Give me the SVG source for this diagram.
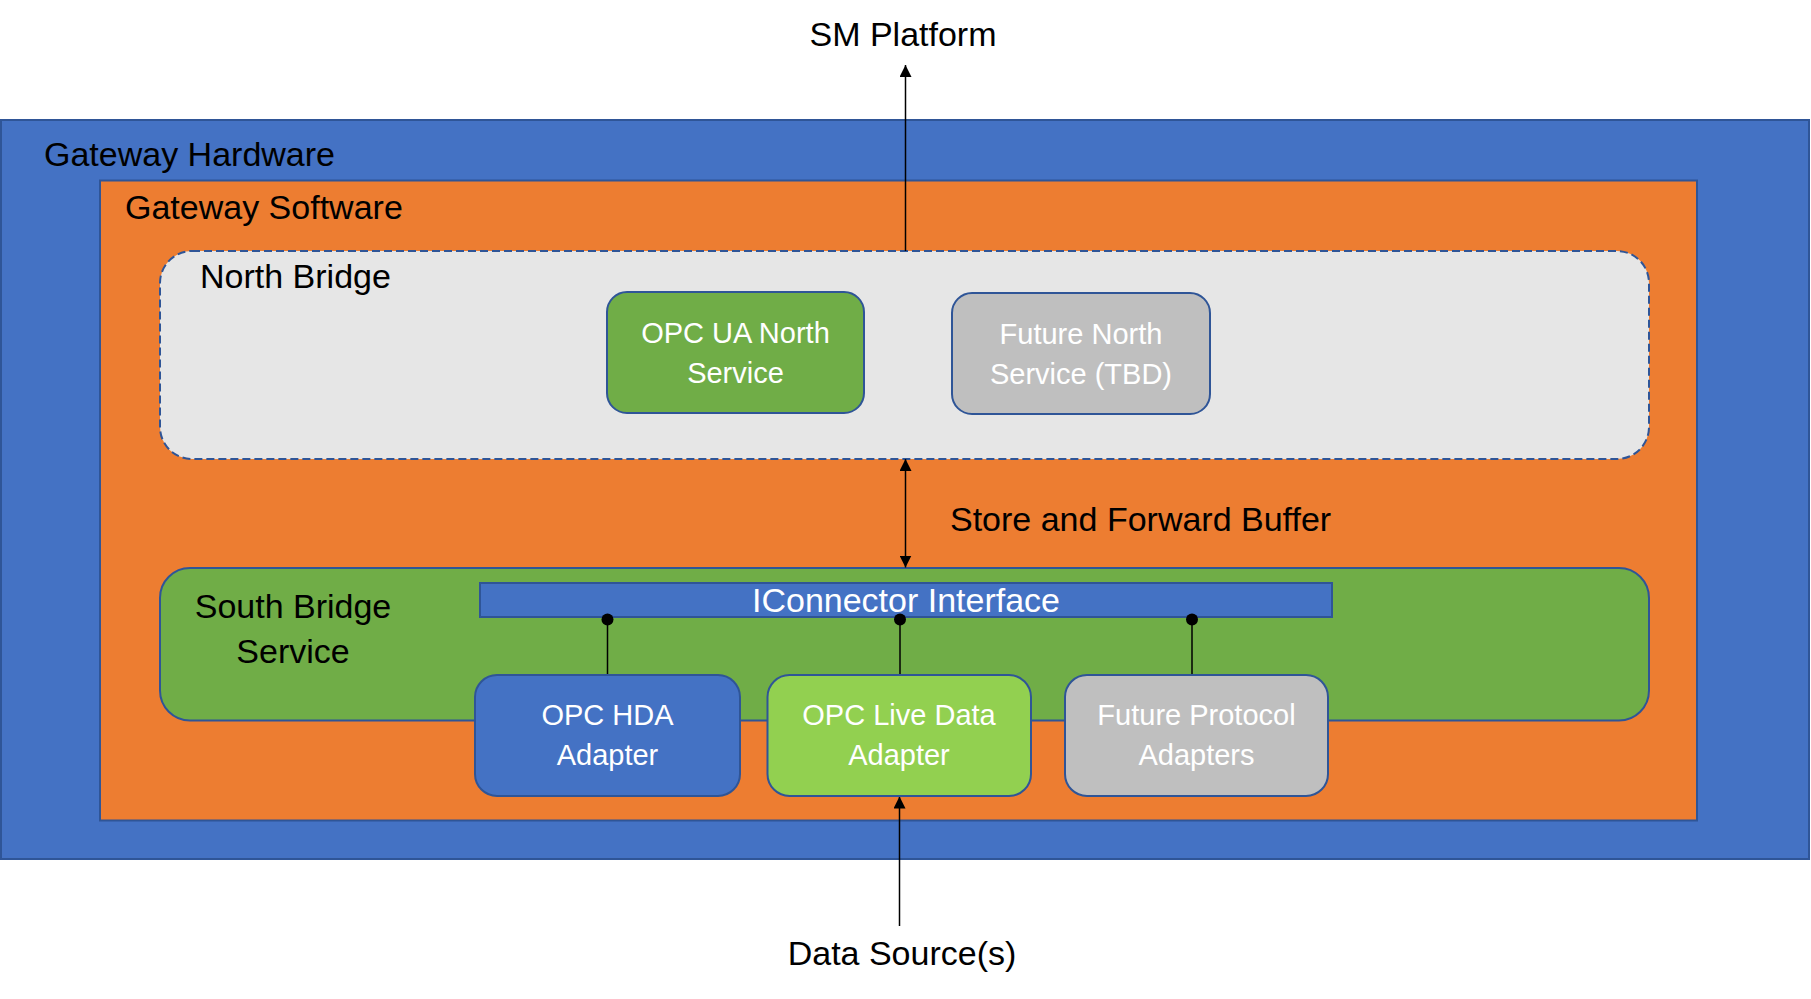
<svg xmlns="http://www.w3.org/2000/svg" width="1811" height="999" viewBox="0 0 1811 999">
<defs>
<style>
text{font-family:"Liberation Sans",Arial,sans-serif;}
.lbl{font-size:34px;fill:#000;}
.bx{font-size:29px;fill:#fff;text-anchor:middle;}
.node{stroke:#2f5597;stroke-width:2;}
.conn{stroke:#000;stroke-width:1.5;fill:none;}
</style>
<marker id="ah" viewBox="0 0 12 12" refX="12" refY="6" markerWidth="12" markerHeight="12" markerUnits="userSpaceOnUse" orient="auto-start-reverse">
<path d="M0,0 L12,6 L0,12 Z" fill="#000"/>
</marker>
</defs>
<rect x="0" y="0" width="1811" height="999" fill="#fff"/>
<g id="gateway-hardware">
<rect x="1" y="120" width="1808" height="739" fill="#4472c4" stroke="#2f5597" stroke-width="2"/>
<text class="lbl" x="44" y="166">Gateway Hardware</text>
</g>
<g id="gateway-software">
<rect x="100" y="180.5" width="1597" height="640" fill="#ed7d31" stroke="#2f5597" stroke-width="2"/>
<text class="lbl" x="125" y="219">Gateway Software</text>
</g>
<g id="north-bridge">
<rect x="160" y="251" width="1489" height="208" rx="32" ry="32" fill="#e6e6e6" stroke="#2f5597" stroke-width="2" stroke-dasharray="8,4"/>
<text class="lbl" x="200" y="288">North Bridge</text>
</g>
<g id="opc-ua-north">
<rect class="node" x="607" y="292" width="257" height="121" rx="20" fill="#70ad47"/>
<text class="bx" x="735.5" y="343">OPC UA North</text>
<text class="bx" x="735.5" y="383">Service</text>
</g>
<g id="future-north">
<rect class="node" x="952" y="293" width="258" height="121" rx="20" fill="#bfbfbf"/>
<text class="bx" x="1081" y="344">Future North</text>
<text class="bx" x="1081" y="384">Service (TBD)</text>
</g>
<g id="store-forward-label">
<text class="lbl" x="950" y="531">Store and Forward Buffer</text>
</g>
<g id="south-bridge">
<rect x="160" y="568" width="1489" height="152.5" rx="30" ry="30" fill="#70ad47" stroke="#2f5597" stroke-width="2"/>
<text class="lbl" x="293" y="618" text-anchor="middle">South Bridge</text>
<text class="lbl" x="293" y="663" text-anchor="middle">Service</text>
</g>
<g id="iconnector">
<rect x="480" y="583" width="852" height="34" fill="#4472c4" stroke="#2f5597" stroke-width="2"/>
<text x="906" y="612" font-size="34" fill="#fff" text-anchor="middle">IConnector Interface</text>
</g>
<g id="connectors">
<line class="conn" x1="905.5" y1="251" x2="905.5" y2="65" marker-end="url(#ah)"/>
<line class="conn" x1="905.5" y1="459" x2="905.5" y2="567.5" marker-start="url(#ah)" marker-end="url(#ah)"/>
<line class="conn" x1="899.5" y1="926" x2="899.5" y2="796.5" marker-end="url(#ah)"/>
<line class="conn" x1="607.5" y1="619" x2="607.5" y2="675"/>
<line class="conn" x1="900" y1="619" x2="900" y2="675"/>
<line class="conn" x1="1192" y1="619" x2="1192" y2="675"/>
<circle cx="607.5" cy="619.5" r="6" fill="#000"/>
<circle cx="900" cy="619.5" r="6" fill="#000"/>
<circle cx="1192" cy="619.5" r="6" fill="#000"/>
</g>
<g id="opc-hda">
<rect class="node" x="475" y="675" width="265" height="121" rx="22" fill="#4472c4"/>
<text class="bx" x="607.5" y="725">OPC HDA</text>
<text class="bx" x="607.5" y="765">Adapter</text>
</g>
<g id="opc-live">
<rect class="node" x="767.5" y="675" width="263.5" height="121" rx="22" fill="#92d050"/>
<text class="bx" x="899" y="725">OPC Live Data</text>
<text class="bx" x="899" y="765">Adapter</text>
</g>
<g id="future-protocol">
<rect class="node" x="1065" y="675" width="263" height="121" rx="22" fill="#bfbfbf"/>
<text class="bx" x="1196.5" y="725">Future Protocol</text>
<text class="bx" x="1196.5" y="765">Adapters</text>
</g>
<g id="sm-platform">
<text class="lbl" x="903" y="46" text-anchor="middle">SM Platform</text>
</g>
<g id="data-sources">
<text class="lbl" x="902" y="965" text-anchor="middle" font-size="33">Data Source(s)</text>
</g>
</svg>
